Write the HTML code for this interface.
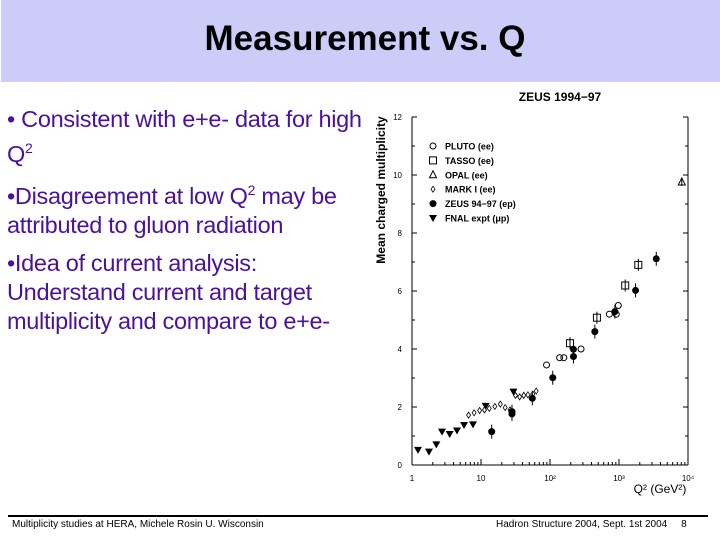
<!DOCTYPE html>
<html><head><meta charset="utf-8"><style>
body{margin:0;width:720px;height:540px;background:#fff;position:relative;overflow:hidden;font-family:"Liberation Sans",sans-serif}
#hdr{position:absolute;left:1px;top:0;width:719px;height:82px;background:#ccccf8}
#title{position:absolute;left:0;width:730px;top:19px;text-align:center;font-weight:bold;font-size:35px;color:#000}
.b{position:absolute;left:7px;font-size:23.5px;line-height:29px;color:#4a10a0;width:385px;letter-spacing:-0.3px}
sup{font-size:14px}
.ft{position:absolute;top:519px;font-size:10px;color:#000}
</style></head><body>
<div id="hdr"></div>
<div id="title">Measurement vs. Q</div>
<div class="b" style="top:105px">• Consistent with e+e- data for high Q<sup>2</sup></div>
<div class="b" style="top:176px;width:360px">•Disagreement at low Q<sup>2</sup> may be attributed to gluon radiation</div>
<div class="b" style="top:249px;width:335px">•Idea of current analysis: Understand current and target multiplicity and compare to e+e-</div>
<div style="position:absolute;left:8px;top:515px;width:700px;height:2px;background:#000"></div>
<div class="ft" style="left:12px">Multiplicity studies at HERA, Michele Rosin U. Wisconsin</div>
<div class="ft" style="left:496px">Hadron Structure 2004, Sept. 1st 2004 &nbsp;&nbsp;&nbsp; 8</div>
<svg id="ch" width="720" height="540" style="position:absolute;left:0;top:0"></svg>
<script>
const fnalX=[0.087,0.246,0.353,0.435,0.546,0.652,0.754,0.884,1.068,1.47];
const fnalY=[0.52,0.46,0.71,1.15,1.07,1.19,1.38,1.40,2.04,2.53];
const zeusX=[1.155,1.449,1.449,1.744,2.04,2.34,2.34,2.65,2.94,3.24,3.54];
const zeusY=[1.15,1.76,1.84,2.30,3.01,3.74,3.99,4.60,5.29,6.02,7.11];
const plutoX=[1.95,2.14,2.20,2.45,2.86,2.96,2.99];
const plutoY=[3.45,3.7,3.7,4.0,5.2,5.2,5.5];
const tassoX=[2.29,2.68,3.09,3.28];
const tassoY=[4.2,5.08,6.19,6.9];
const opalX=[3.91];
const opalY=[9.76];
const markX=[0.82,0.9,0.98,1.05,1.12,1.2,1.28,1.35,1.42,1.5,1.56,1.62,1.68,1.75,1.8];
const markY=[1.72,1.8,1.88,1.9,1.95,2.02,2.1,1.98,1.9,2.4,2.35,2.4,2.42,2.45,2.55];
const yTicks=[0,2,4,6,8,10,12];
const xTicks=["1","10","10²","10³","10⁴"];
const svg=document.getElementById('ch');const NS='http://www.w3.org/2000/svg';
const X0=412,X1=688,Y0=465,Y1=117;
const sx=l=>X0+l*(X1-X0)/4, sy=v=>Y0-v*(Y0-Y1)/12;
function mk(t,a,p){const e=document.createElementNS(NS,t);for(const k in a)e.setAttribute(k,a[k]);(p||svg).appendChild(e);return e;}
let ax=mk('line',{x1:X0,y1:Y1,x2:X0,y2:Y0,stroke:'#000'});

let bx=mk('line',{x1:X0,y1:Y0,x2:X1,y2:Y0,stroke:'#000'});

let rx=mk('line',{x1:X1,y1:Y1,x2:X1,y2:Y0,stroke:'#000'});

for(let v=0;v<=12;v++){mk('line',{x1:X0,x2:X0+(v%2?3:5),y1:sy(v),y2:sy(v),stroke:'#000'});mk('line',{x1:X1,x2:X1-(v%2?3:5),y1:sy(v),y2:sy(v),stroke:'#000'});}
yTicks.forEach(v=>{const t=mk('text',{x:X0-10,y:sy(v)+3,'font-size':8,'text-anchor':'end'});t.textContent=v;
});
for(let d=0;d<4;d++)for(let m=1;m<=10;m++){const x=sx(d+Math.log10(m));mk('line',{x1:x,x2:x,y1:Y0,y2:Y0-(m==1||m==10?6:3),stroke:'#000'});}
xTicks.forEach((s,i)=>{const t=mk('text',{x:sx(i),y:Y0+16,'font-size':8,'text-anchor':'middle'});t.textContent=s;
});
let xt=mk('text',{x:660,y:493,'font-size':12,'text-anchor':'middle'});xt.textContent='Q² (GeV²)';

let yt=mk('text',{x:0,y:0,'font-size':12,'font-weight':'bold','text-anchor':'middle',transform:'translate(385,190) rotate(-90)'});yt.textContent='Mean charged multiplicity';

let ct=mk('text',{x:560,y:101,'font-size':12,'font-weight':'bold','text-anchor':'middle'});ct.textContent='ZEUS 1994−97';

function sym(k,x,y,p){
 if(k=='c')return mk('circle',{cx:x,cy:y,r:3,fill:'none',stroke:'#000'},p);
 if(k=='s')return mk('rect',{x:x-3.5,y:y-3.5,width:7,height:7,fill:'none',stroke:'#000'},p);
 if(k=='t')return mk('polygon',{points:`${x},${y-4} ${x-3.5},${y+3} ${x+3.5},${y+3}`,fill:'none',stroke:'#000'},p);
 if(k=='d')return mk('polygon',{points:`${x},${y-3} ${x-2},${y} ${x},${y+3} ${x+2},${y}`,fill:'none',stroke:'#000','stroke-width':0.8},p);
 if(k=='f')return mk('circle',{cx:x,cy:y,r:3.5,fill:'#000'},p);
 if(k=='v')return mk('polygon',{points:`${x-4},${y-3} ${x+4},${y-3} ${x},${y+4}`,fill:'#000'},p);
}
function series(k,xs,ys,name,err){const g=mk('g',{});
 xs.forEach((l,i)=>{const x=sx(l),y=sy(ys[i]);if(err)mk('line',{x1:x,x2:x,y1:y-err,y2:y+err,stroke:'#000'},g);const e=sym(k,x,y,g);
 });}
series('d',markX,markY,'mark1-series',0);
series('v',fnalX,fnalY,'fnal-series',3);
series('f',zeusX,zeusY,'zeus-series',7);
series('c',plutoX,plutoY,'pluto-series',0);
series('s',tassoX,tassoY,'tasso-series',6);
series('t',opalX,opalY,'opal-series',4);
const leg=[['c','PLUTO (ee)'],['s','TASSO (ee)'],['t','OPAL (ee)'],['d','MARK I (ee)'],['f','ZEUS 94−97 (ep)'],['v','FNAL expt (&#956;p)']];
leg.forEach((L,i)=>{const g=mk('g',{});
 const y=146+i*14.4;sym(L[0],433,y,g);const t=mk('text',{x:445,y:y+3.5,'font-size':9,'font-weight':'bold'},g);t.innerHTML=L[1];});
</script>
</body></html>
